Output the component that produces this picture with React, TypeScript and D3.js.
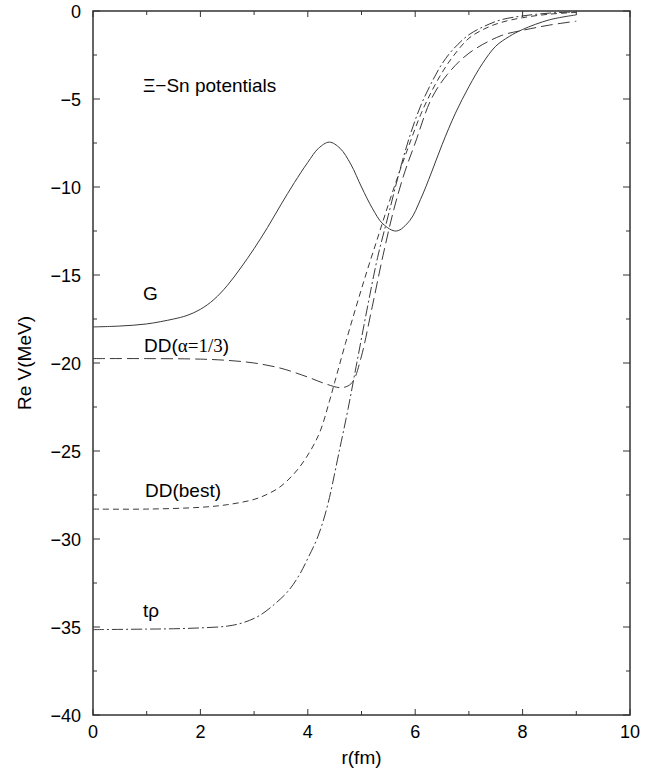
import React from 'react';
import * as d3 from 'd3';

// G (solid)
const gR = [0, 0.5, 1, 1.5, 1.75, 2, 2.25, 2.5, 2.75, 3, 3.25, 3.5, 3.75, 4, 4.2, 4.4, 4.6, 4.8, 5.0, 5.2, 5.4, 5.65, 5.9, 6.1, 6.3, 6.5, 6.75, 7.0, 7.25, 7.5, 7.75, 8.0, 8.5, 9.0];
const gV = [-17.95, -17.9, -17.78, -17.5, -17.3, -16.95, -16.4, -15.6, -14.6, -13.5, -12.3, -11.0, -9.75, -8.6, -7.8, -7.45, -7.8, -8.7, -10.0, -11.2, -12.1, -12.5, -11.9, -10.7, -9.2, -7.6, -5.8, -4.3, -3.0, -2.0, -1.45, -1.05, -0.5, -0.22];

// DD(alpha=1/3) (long dash)
const dd3R = [0, 1, 2, 2.5, 3, 3.5, 4, 4.3, 4.6, 4.75, 4.85, 5.0, 5.2, 5.4, 5.6, 5.8, 6.0, 6.3, 6.6, 7.0, 7.6, 8.0, 8.5, 9.0];
const dd3V = [-19.75, -19.75, -19.78, -19.85, -20.0, -20.3, -20.8, -21.15, -21.4, -21.3, -21.0, -19.6, -16.8, -13.9, -11.3, -9.2, -7.5, -5.0, -3.6, -2.4, -1.4, -1.1, -0.8, -0.58];

// DD(best) (short dash)
const ddbR = [0, 1, 2, 2.5, 3, 3.25, 3.5, 3.85, 4.2, 4.4, 4.5, 4.7, 4.9, 5.1, 5.3, 5.5, 5.7, 5.9, 6.1, 6.3, 6.5, 6.7, 7.0, 7.3, 7.6, 8.0, 8.5, 9.0];
const ddbV = [-28.3, -28.3, -28.2, -28.05, -27.75, -27.45, -27.0, -25.9, -24.1, -22.2, -21.1, -18.9, -16.8, -14.8, -12.9, -11.0, -9.2, -7.5, -5.9, -4.6, -3.5, -2.6, -1.55, -1.0, -0.65, -0.38, -0.18, -0.08];

// t rho (dash-dot)
const trR = [0, 1, 1.5, 2, 2.5, 2.8, 3.1, 3.42, 3.65, 3.85, 4.0, 4.17, 4.35, 4.6, 4.75, 4.9, 5.1, 5.3, 5.5, 5.7, 5.9, 6.1, 6.3, 6.5, 6.7, 7.0, 7.3, 7.6, 8.0, 8.5, 9.0];
const trV = [-35.15, -35.12, -35.1, -35.05, -34.95, -34.75, -34.35, -33.6, -32.9, -32.0, -31.1, -30.0, -28.3, -24.8, -22.6, -20.2, -17.0, -14.0, -11.6, -9.2, -7.1, -5.4, -4.1, -3.0, -2.2, -1.35, -0.85, -0.5, -0.28, -0.12, -0.05];

const xMajor = [0, 2, 4, 6, 8, 10];
const xMinor = [1, 3, 5, 7, 9];
const yMajor = [0, -5, -10, -15, -20, -25, -30, -35, -40];
const yMinor = [-2.5, -7.5, -12.5, -17.5, -22.5, -27.5, -32.5, -37.5];

const W = 665, H = 769;
const L = 93, R = 630, T = 11, B = 715;
const font = "'Liberation Sans', Arial, Helvetica, sans-serif";

const App = () => {
  const x = d3.scaleLinear().domain([0, 10]).range([L, R]);
  const y = d3.scaleLinear().domain([-40, 0]).range([B, T]);
  const line = (rs: number[], vs: number[]) =>
    d3.line<number>().x((d, i) => x(rs[i])).y(d => y(d)).curve(d3.curveCatmullRom.alpha(0.5))(vs) || '';

  const series = [
    { d: line(gR, gV), dash: null },
    { d: line(dd3R, dd3V), dash: '12 5' },
    { d: line(ddbR, ddbV), dash: '6 4' },
    { d: line(trR, trV), dash: '11 3 2 3' },
  ];

  return (
    <svg width={W} height={H} style={{ position: 'absolute', left: 0, top: 0 }} fontFamily={font}>
      <rect width={W} height={H} fill="#fff" />
      {series.map((s, i) => (
        <path key={i} d={s.d} fill="none" stroke="#3a3a3a" strokeWidth={1}
          strokeDasharray={s.dash || undefined} />
      ))}
      {/* frame */}
      <rect x={L} y={T} width={R - L} height={B - T} fill="none" stroke="#333" strokeWidth={1.5} />
      {/* x ticks */}
      {xMajor.map(t => (
        <g key={'xm' + t}>
          <line x1={x(t)} x2={x(t)} y1={B} y2={B - 6} stroke="#333" />
          <line x1={x(t)} x2={x(t)} y1={T} y2={T + 6} stroke="#333" />
          <text x={x(t)} y={738} fontSize={18} textAnchor="middle">{t}</text>
        </g>
      ))}
      {xMinor.map(t => (
        <g key={'xn' + t}>
          <line x1={x(t)} x2={x(t)} y1={B} y2={B - 4} stroke="#333" />
          <line x1={x(t)} x2={x(t)} y1={T} y2={T + 4} stroke="#333" />
        </g>
      ))}
      {/* y ticks */}
      {yMajor.map(t => (
        <g key={'ym' + t}>
          <line x1={L} x2={L + 7} y1={y(t)} y2={y(t)} stroke="#333" />
          <line x1={R} x2={R - 7} y1={y(t)} y2={y(t)} stroke="#333" />
          <text x={81} y={y(t) + 7} fontSize={18} textAnchor="end">{t === 0 ? '0' : '\u2212' + Math.abs(t)}</text>
        </g>
      ))}
      {yMinor.map(t => (
        <g key={'yn' + t}>
          <line x1={L} x2={L + 4} y1={y(t)} y2={y(t)} stroke="#333" />
          <line x1={R} x2={R - 4} y1={y(t)} y2={y(t)} stroke="#333" />
        </g>
      ))}
      {/* axis titles */}
      <text x={(L + R) / 2} y={764} fontSize={19} textAnchor="middle">r(fm)</text>
      <text transform={`translate(31,${(T + B) / 2}) rotate(-90)`} fontSize={19} textAnchor="middle">Re V(MeV)</text>
      {/* annotations */}
      <text x={143} y={92} fontSize={19}>{'\u039E\u2212Sn potentials'}</text>
      <text x={143} y={300} fontSize={19}>G</text>
      <text x={144} y={352} fontSize={19}>DD(<tspan fontFamily="'Liberation Serif', 'Times New Roman', serif" fontSize={19}>{'\u03B1=1/3'}</tspan>)</text>
      <text x={145} y={497} fontSize={19}>DD(best)</text>
      <text x={143} y={617} fontSize={19}>{'t\u03C1'}</text>
    </svg>
  );
};

export default App;
